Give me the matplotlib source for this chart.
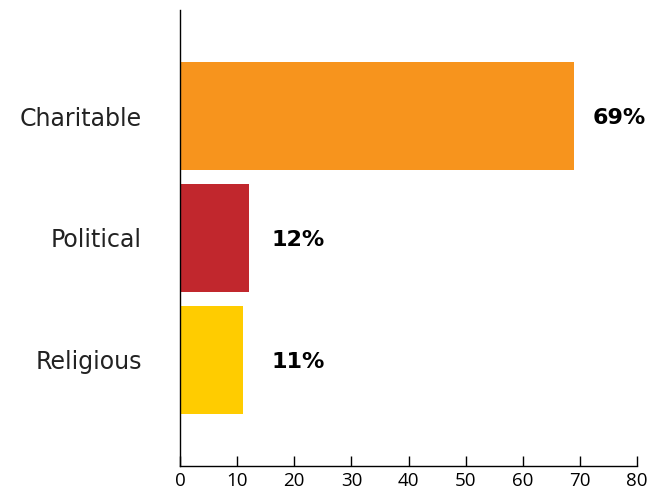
import matplotlib
matplotlib.use("Agg")
import matplotlib.pyplot as plt

categories = ["Charitable", "Political", "Religious"]
values = [69, 12, 11]
value_labels = ["69%", "12%", "11%"]
colors = ["#F7941D", "#C1272D", "#FFCC00"]
xticks = [0, 10, 20, 30, 40, 50, 60, 70, 80]

fig = plt.figure(figsize=(6.5, 4.95), dpi=100)
ax = fig.add_axes([180/650, 29/495, 457/650, 456/495])

pos = list(range(len(categories)))
ax.barh(pos, values, height=0.885, color=colors)
ax.set_ylim(2.869, -0.869)
ax.set_xlim(0, 80)

for p, v, lab in zip(pos, values, value_labels):
    ax.text(max(v + 3.3, 16), p + 0.02, lab, va="center", ha="left",
            fontsize=16, fontweight="bold", family="DejaVu Sans", color="black")

ax.set_yticks(pos)
ax.set_yticklabels(categories, fontsize=17, family="DejaVu Sans", color="#222222")
ax.tick_params(axis="y", length=0, pad=27.4)
ax.set_xticks(xticks)
ax.set_xticklabels([str(t) for t in xticks], fontsize=13.5, family="Open Sans")
ax.tick_params(axis="x", direction="in", length=7, width=1, pad=4.5)

for s in ["top", "right"]:
    ax.spines[s].set_visible(False)
for s in ["left", "bottom"]:
    ax.spines[s].set_linewidth(1)
    ax.spines[s].set_color("black")

fig.savefig("out.png", dpi=100)
